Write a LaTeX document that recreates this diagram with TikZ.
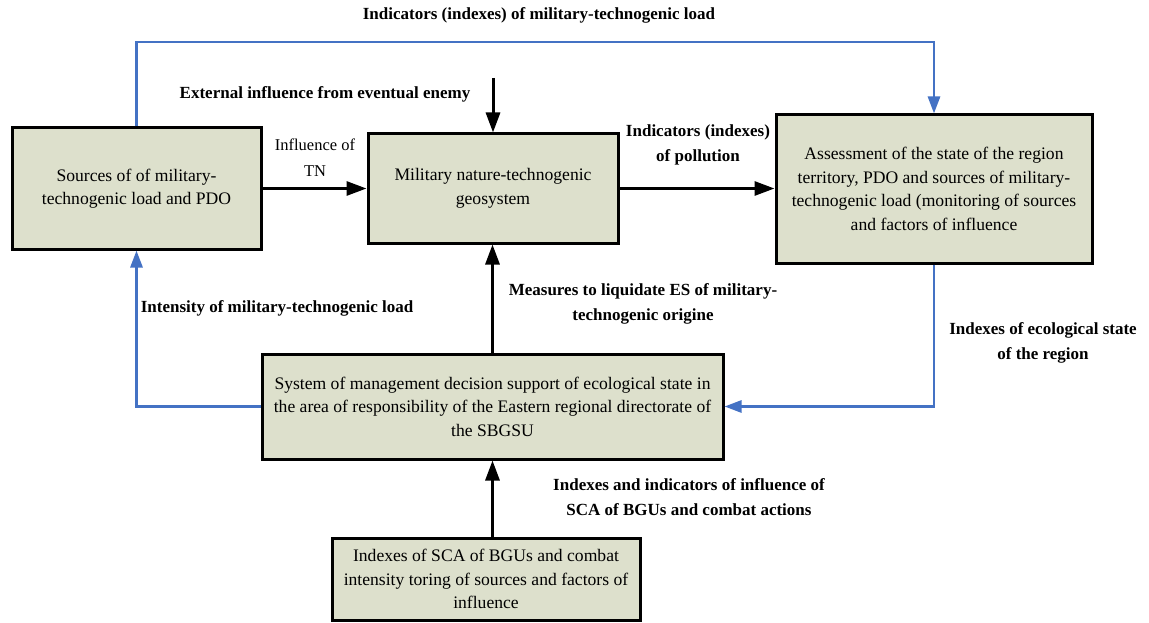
\documentclass[tikz,border=0pt]{standalone}
\usepackage{fontspec}
\setmainfont{Liberation Serif}
\usetikzlibrary{arrows.meta}
\definecolor{boxfill}{RGB}{221,224,204}
\definecolor{flowblue}{RGB}{68,114,196}
\begin{document}
\begin{tikzpicture}[x=1pt,y=-1pt,
  block/.style={draw=black,line width=3pt,fill=boxfill,align=center,inner sep=0pt,
    font=\fontsize{17.6}{23.5}\selectfont},
  blackflow/.style={draw=black,line width=3pt,-{Triangle[length=20pt,width=14pt]}},
  blueflow/.style={draw=flowblue,line width=2.8pt,-{Triangle[length=17pt,width=12pt]}},
  lbl/.style={align=center,inner sep=0pt,font=\fontsize{17}{25.5}\selectfont\bfseries},
  plainlbl/.style={align=center,inner sep=0pt,font=\fontsize{16.5}{26}\selectfont}]
  \useasboundingbox (0,0) rectangle (1149,623);

  % blocks
  \node[block,minimum width=249pt,minimum height=121pt] (A) at (136.5,188.5)
    {Sources of of military-\\technogenic load and PDO};
  \node[block,minimum width=250pt,minimum height=109pt] (B) at (493,188.5)
    {Military nature-technogenic\\geosystem};
  \node[block,minimum width=316pt,minimum height=148pt] (C) at (934,189)
    {Assessment of the state of the region\\territory, PDO and sources of military-\\technogenic load (monitoring of sources\\and factors of influence};
  \node[block,minimum width=461pt,minimum height=105pt] (D) at (492.5,406.5)
    {System of management decision support of ecological state in\\the area of responsibility of the Eastern regional directorate of\\the SBGSU};
  \node[block,minimum width=308pt,minimum height=82pt] (E) at (486,579)
    {Indexes of SCA of BGUs and combat\\intensity toring of sources and factors of\\influence};

  % helper points
  \coordinate (topy) at (0,42);
  \coordinate (ext) at (493,78);

  % blue feedback loops
  \draw[blueflow] (A.north) -- (A.north |- topy) -- (C.north |- topy) -- (C.north);
  \draw[blueflow] (D.west) -| (A.south);
  \draw[blueflow] (C.south) |- (D.east);

  % black flows
  \draw[blackflow] (A.east) -- (B.west);
  \draw[blackflow] (B.east) -- (B.east -| C.west);
  \draw[blackflow] (ext) -- (B.north);
  \draw[blackflow] (D.north) -- (D.north |- B.south);
  \draw[blackflow] (D.south |- E.north) -- (D.south);

  % labels
  \node[lbl] (l1) at (539,15) {Indicators (indexes) of military-technogenic load};
  \node[lbl] (l2) at (325,94) {External influence from eventual enemy};
  \node[plainlbl] (l3) at (315,158) {Influence of\\TN};
  \node[lbl] (l4) at (698,145) {Indicators (indexes)\\of pollution};
  \node[lbl] (l5) at (277,308) {Intensity of military-technogenic load};
  \node[lbl] (l6) at (643,304) {Measures to liquidate ES of military-\\technogenic origine};
  \node[lbl] (l7) at (1043,343) {Indexes of ecological state\\of the region};
  \node[lbl] (l8) at (689,497) {Indexes and indicators of influence of\\SCA of BGUs and combat actions};
\end{tikzpicture}
\end{document}
